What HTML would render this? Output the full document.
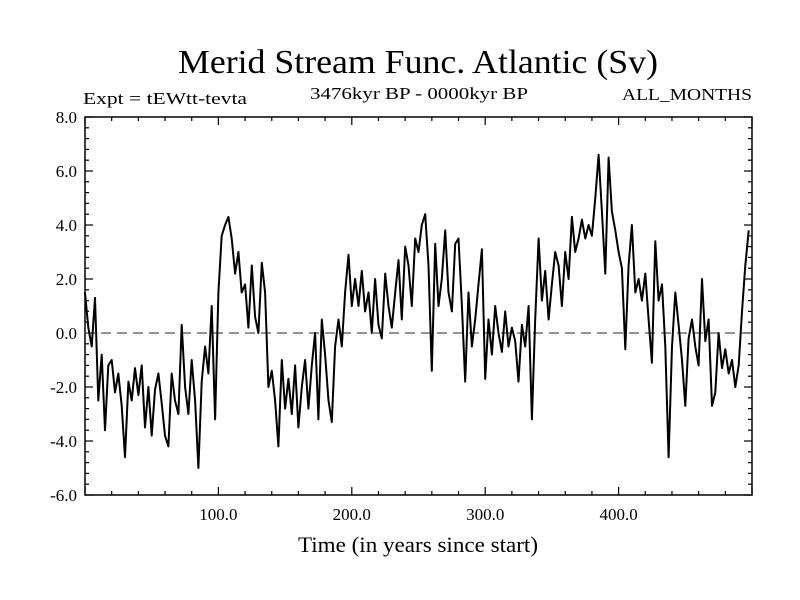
<!DOCTYPE html>
<html><head><meta charset="utf-8"><style>body{margin:0;background:#fff}svg{display:block}text{font-family:"Liberation Serif",serif;fill:#000}</style></head>
<body>
<svg id="chart" width="800" height="600">
<text x="178" y="73" font-size="34" textLength="480" lengthAdjust="spacingAndGlyphs">Merid Stream Func. Atlantic (Sv)</text>
<text x="83" y="104" font-size="17" textLength="164" lengthAdjust="spacingAndGlyphs">Expt = tEWtt-tevta</text>
<text x="310" y="99" font-size="17" textLength="218" lengthAdjust="spacingAndGlyphs">3476kyr BP - 0000kyr BP</text>
<text x="622" y="100" font-size="17" textLength="130" lengthAdjust="spacingAndGlyphs">ALL_MONTHS</text>
<text x="418" y="552" font-size="22" text-anchor="middle" textLength="240" lengthAdjust="spacingAndGlyphs">Time (in years since start)</text>
<g id="axes"></g>
<g id="marks"></g>
</svg>
<script>
const years0 = 0, yearStep = 2.5;
const values = [1.5,0.2,-0.5,1.3,-2.5,-0.8,-3.6,-1.2,-1.0,-2.2,-1.5,-2.7,-4.6,-1.8,-2.5,-1.3,-2.3,-1.2,-3.5,-2.0,
-3.8,-2.1,-1.5,-2.6,-3.8,-4.2,-1.5,-2.5,-3.0,0.3,-2.0,-3.0,-1.0,-2.5,-5.0,-1.8,-0.5,-1.5,1.0,-3.2,
1.5,3.6,4.0,4.3,3.5,2.2,3.0,1.5,1.8,0.2,2.5,0.6,0.0,2.6,1.5,-2.0,-1.4,-2.5,-4.2,-1.0,
-2.8,-1.7,-3.0,-1.2,-3.5,-2.0,-1.0,-2.8,-1.2,0.0,-3.2,0.5,-0.8,-2.5,-3.3,-0.5,0.5,-0.5,1.5,2.9,
1.0,2.0,1.0,2.3,0.8,1.5,0.0,2.0,0.3,-0.2,2.2,1.0,0.2,1.5,2.7,0.5,3.2,2.5,1.0,3.5,
3.0,4.0,4.4,2.5,-1.4,3.3,1.0,2.0,3.8,1.5,0.8,3.3,3.5,1.0,-1.8,1.5,-0.5,0.5,1.8,3.1,
-1.7,0.5,-0.8,1.0,0.0,-0.7,0.8,-0.5,0.2,-0.3,-1.8,0.3,-0.5,1.0,-3.2,0.5,3.5,1.2,2.3,0.5,
1.8,3.0,2.5,1.0,3.0,2.0,4.3,3.0,3.5,4.2,3.5,4.0,3.6,5.0,6.6,4.5,2.2,6.5,4.5,3.8,
3.0,2.4,-0.6,2.5,4.0,1.5,2.0,1.2,2.2,0.5,-1.1,3.4,1.2,1.8,-0.5,-4.6,-0.5,1.5,0.3,-1.0,
-2.7,-0.2,0.5,-0.5,-1.2,2.0,-0.3,0.5,-2.7,-2.2,0.0,-1.3,-0.6,-1.5,-1.0,-2.0,-1.2,0.8,2.5,3.8];
const yTickLabels = ["-6.0","-4.0","-2.0","0.0","2.0","4.0","6.0","8.0"];
const xTickLabels = ["100.0","200.0","300.0","400.0"];
const NS="http://www.w3.org/2000/svg";
const L=85,R=752,T=117,B=495, xMin=0,xMax=500,yMin=-6,yMax=8;
const xs=v=>L+(v-xMin)/(xMax-xMin)*(R-L);
const ys=v=>B-(v-yMin)/(yMax-yMin)*(B-T);
const axes=document.getElementById('axes'), marks=document.getElementById('marks');
function mk(tag,attrs,parent){const e=document.createElementNS(NS,tag);for(const k in attrs)e.setAttribute(k,attrs[k]);parent.appendChild(e);return e;}
const frame=mk('rect',{x:L,y:T,width:R-L,height:B-T,fill:'none',stroke:'#000','stroke-width':1.5},axes);


for(let v=0;v<=500;v+=20){const x=xs(v),len=(v%100===0)?8:4;
 const t1=mk('line',{x1:x,x2:x,y1:B,y2:B-len,stroke:'#000','stroke-width':1.2},axes);
 
 
 const t2=mk('line',{x1:x,x2:x,y1:T,y2:T+len,stroke:'#000','stroke-width':1.2},axes);
 
 }
for(let i=0;i<=35;i++){const v=yMin+i*0.4,y=ys(v),len=(i%5===0)?8:4;
 const t1=mk('line',{x1:L,x2:L+len,y1:y,y2:y,stroke:'#000','stroke-width':1.2},axes);
 
 
 const t2=mk('line',{x1:R,x2:R-len,y1:y,y2:y,stroke:'#000','stroke-width':1.2},axes);
 
 }
yTickLabels.forEach(s=>{const t=mk('text',{x:L-8,y:ys(parseFloat(s))+6,'font-size':17,'text-anchor':'end'},axes);t.textContent=s;
 
 });
xTickLabels.forEach(s=>{const t=mk('text',{x:xs(parseFloat(s)),y:B+25,'font-size':17,'text-anchor':'middle'},axes);t.textContent=s;
 
 });
const zero=mk('line',{x1:L,x2:R,y1:ys(0),y2:ys(0),stroke:'#555','stroke-width':1.3,'stroke-dasharray':'10,6'},marks);


const pts=values.map((v,i)=>xs(years0+i*yearStep).toFixed(1)+','+ys(v).toFixed(1)).join(' ');
const line=mk('polyline',{points:pts,fill:'none',stroke:'#000','stroke-width':2,'stroke-linejoin':'round'},marks);


</script>
</body></html>
